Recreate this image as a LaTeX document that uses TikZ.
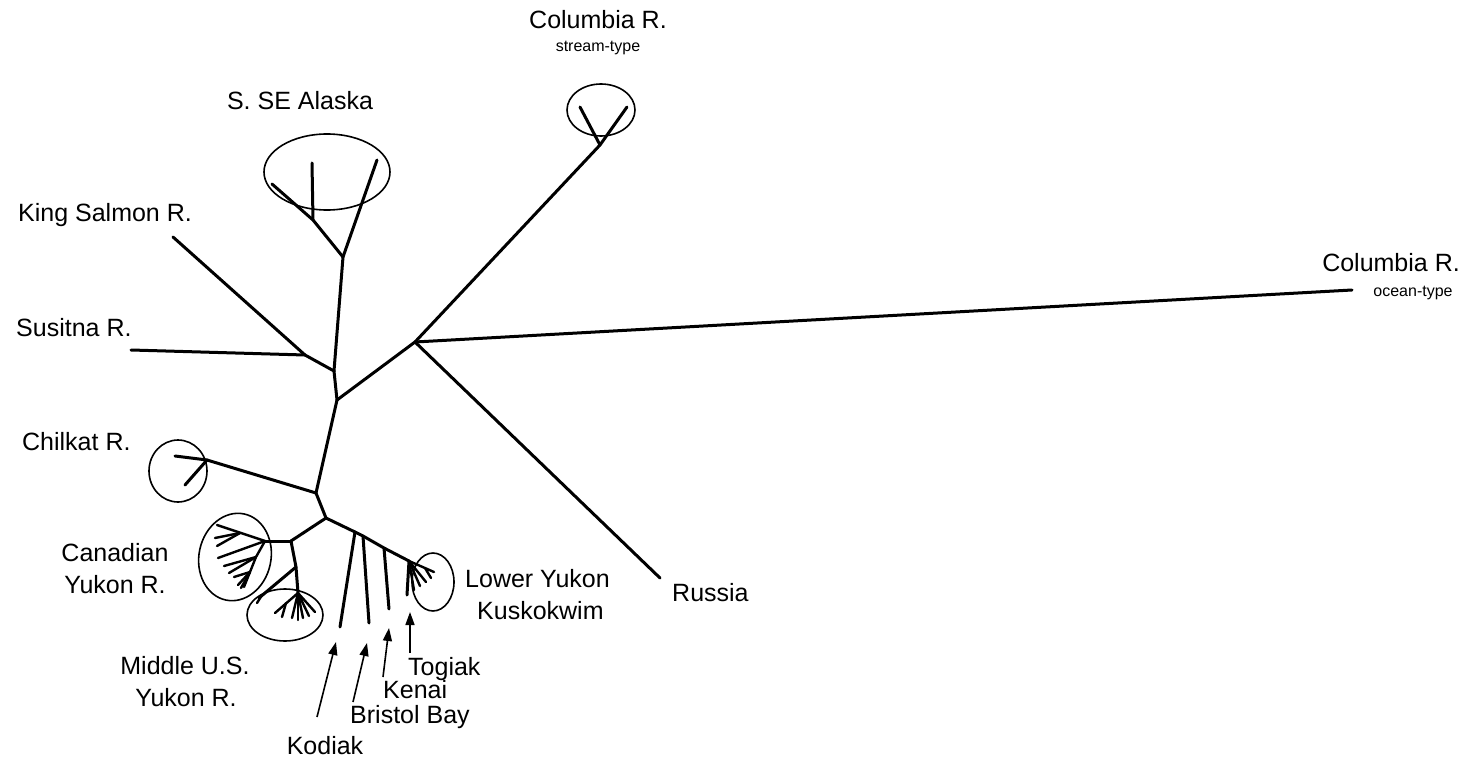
\documentclass[tikz,border=0pt]{standalone}
\usepackage{fontspec}
\setmainfont{Liberation Sans}
\usetikzlibrary{arrows.meta}
\begin{document}
\begin{tikzpicture}[x=1pt,y=-1pt,
  br/.style={line width=3pt,line cap=round,line join=round},
  twig/.style={line width=2.4pt,line cap=round},
  ring/.style={line width=1.6pt},
  lbl/.style={font=\fontsize{25}{29}\selectfont,inner sep=0pt},
  sml/.style={font=\fontsize{16}{19}\selectfont,inner sep=0pt},
  pointer/.style={line width=1.6pt,-{Triangle[length=13pt,width=9pt]}}]
\useasboundingbox (0,0) rectangle (1473,757);
% internal nodes
\coordinate (A) at (415,342);
\coordinate (B) at (337,400);
\coordinate (C) at (334,371);
\coordinate (KSJ) at (305,355);
\coordinate (SEJ) at (343,257);
\coordinate (D) at (316,493);
\coordinate (CHJ) at (207,460);
\coordinate (E) at (326,518);
\coordinate (F) at (291,541);
\coordinate (CSJ) at (600,145);
\coordinate (CYJ) at (265,541);
\coordinate (MJ1) at (296,567);
\coordinate (MJ) at (298,593);
\coordinate (K1) at (355,532);
\coordinate (K2) at (363,536);
\coordinate (K3) at (384,548);
\coordinate (LYJ) at (409,561);
% leaf ends
\coordinate (COend) at (1352,290);
\coordinate (RUend) at (660,578);
\coordinate (KSend) at (173,237);
\coordinate (SUend) at (131,350);
\coordinate (KOend) at (340,627);
\coordinate (BBend) at (369,623);
\coordinate (KEend) at (389,609);
\coordinate (TOend) at (407,595);
% main tree
\draw[br] (A) -- (CSJ);
\draw[br] (A) -- (COend);
\draw[br] (A) -- (RUend);
\draw[br] (A) -- (B);
\draw[br] (B) -- (C);
\draw[br] (C) -- (KSJ);
\draw[br] (KSJ) -- (KSend);
\draw[br] (KSJ) -- (SUend);
\draw[br] (C) -- (SEJ);
\draw[br] (B) -- (D);
\draw[br] (D) -- (CHJ);
\draw[br] (D) -- (E);
\draw[br] (E) -- (F);
\draw[br] (E) -- (K1) -- (K2) -- (K3) -- (LYJ);
\draw[br] (K1) -- (KOend);
\draw[br] (K2) -- (BBend);
\draw[br] (K3) -- (KEend);
\draw[br] (LYJ) -- (TOend);
% S. SE Alaska
\coordinate (SE1) at (313,220);
\draw[br] (SEJ) -- (377,160);
\draw[br] (SEJ) -- (SE1) -- (272,184);
\draw[br] (SE1) -- (312,163);
\draw[ring] (327,172) ellipse [x radius=63, y radius=38];
% Columbia stream-type
\draw[br] (CSJ) -- (580,107);
\draw[br] (CSJ) -- (627,107);
\draw[ring] (601,110) ellipse [x radius=34, y radius=26];
% Chilkat
\draw[br] (CHJ) -- (175,456);
\draw[br] (CHJ) -- (185,485);
\draw[ring] (178,471) ellipse [x radius=29, y radius=31];
% Canadian Yukon
\draw[br] (F) -- (CYJ);
\coordinate (CY1) at (240,533);
\draw[twig] (CYJ) -- (217,525);
\draw[twig] (CY1) -- (215,538);
\draw[twig] (CY1) -- (217,546);
\draw[twig] (CYJ) -- (218,558);
\coordinate (CY2) at (256,557);
\coordinate (CY3) at (250,572);
\draw[twig] (CYJ) -- (CY2) -- (CY3) -- (244,587);
\draw[twig] (CY2) -- (224,566);
\draw[twig] (CY2) -- (229,573);
\draw[twig] (CY3) -- (234,577);
\draw[twig] (CY3) -- (238,585);
\draw[twig] (CY3) -- (241,588);
\draw[ring,rotate around={-12:(235,557)}] (235,557) ellipse [x radius=36, y radius=44];
% Middle U.S. Yukon
\draw[br] (F) -- (MJ1) -- (MJ);
\draw[br] (MJ1) -- (259,598);
\draw[twig] (262,595) -- (257,603);
\draw[twig] (MJ) -- (275,613);
\draw[twig] (286,603) -- (282,617);
\draw[twig] (MJ) -- (292,618);
\draw[twig] (MJ) -- (298,620);
\draw[twig] (MJ) -- (303,618);
\draw[twig] (MJ) -- (309,616);
\draw[twig] (MJ) -- (315,612);
\draw[ring] (285,615) ellipse [x radius=38, y radius=26];
% Lower Yukon / Kuskokwim
\draw[twig] (LYJ) -- (434,572);
\draw[twig] (425,568) -- (431,578);
\draw[twig] (LYJ) -- (426,582);
\draw[twig] (LYJ) -- (420,586);
\draw[twig] (LYJ) -- (414,590);
\draw[ring] (433,582) ellipse [x radius=21, y radius=29];
% labels
\node[lbl,anchor=base] (lcs) at (598,29) {Columbia R.};
\node[sml,anchor=base] (lcs2) at (598,52) {stream-type};
\node[lbl,anchor=base] (lse) at (300,110) {S. SE Alaska};
\node[lbl,anchor=base west] (lks) at (18,222) {King Salmon R.};
\node[lbl,anchor=base west] (lsu) at (16,336) {Susitna R.};
\node[lbl,anchor=base west] (lch) at (22,450) {Chilkat R.};
\node[lbl,anchor=base] (lcy1) at (115,561) {Canadian};
\node[lbl,anchor=base] (lcy2) at (115,593) {Yukon R.};
\node[lbl,anchor=base] (lmu1) at (185,674) {Middle U.S.};
\node[lbl,anchor=base] (lmu2) at (186,706) {Yukon R.};
\node[lbl,anchor=base] (lko) at (325,754) {Kodiak};
\node[lbl,anchor=base west] (lbb) at (350,723) {Bristol Bay};
\node[lbl,anchor=base west] (lke) at (383,698) {Kenai};
\node[lbl,anchor=base west] (lto) at (408,675) {Togiak};
\node[lbl,anchor=base west] (lly) at (465,587) {Lower Yukon};
\node[lbl,anchor=base west] (lku) at (477,619) {Kuskokwim};
\node[lbl,anchor=base west] (lru) at (672,601) {Russia};
\node[lbl,anchor=base east] (lco) at (1460,271) {Columbia R.};
\node[sml,anchor=base] (lco2) at (1413,296) {ocean-type};
% pointers
\coordinate (pko) at (317,717);
\coordinate (pbb) at (353,702);
\coordinate (pke) at (383,677);
\coordinate (pto) at (410,653);
\draw[pointer] (pko) -- (336,642);
\draw[pointer] (pbb) -- (367,643);
\draw[pointer] (pke) -- (389,628);
\draw[pointer] (pto) -- (410,612);
\end{tikzpicture}
\end{document}
